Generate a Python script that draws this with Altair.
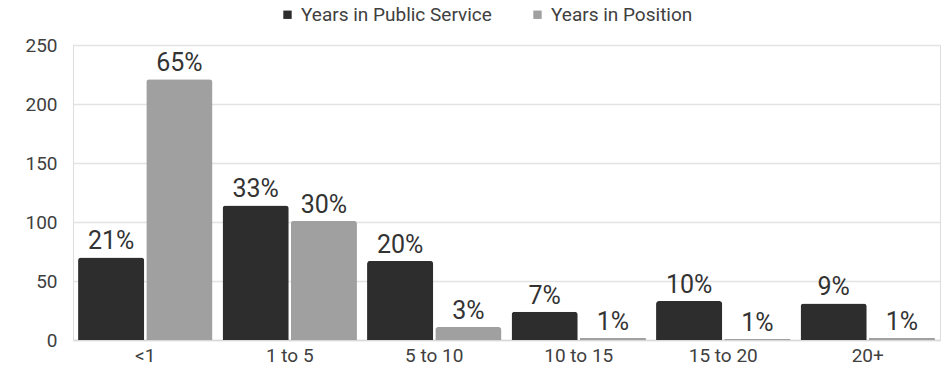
import altair as alt
import pandas as pd

categories = ["<1", "1 to 5", "5 to 10", "10 to 15", "15 to 20", "20+"]
series_names = ["Years in Public Service", "Years in Position"]
public_service = [70, 114, 67, 24, 33, 31]
position = [221, 101, 11, 2, 1, 2]
public_pct = ["21%", "33%", "20%", "7%", "10%", "9%"]
position_pct = ["65%", "30%", "3%", "1%", "1%", "1%"]

rows = []
for i, c in enumerate(categories):
    rows.append({"cat": c, "series": series_names[0], "value": public_service[i], "label": public_pct[i]})
    rows.append({"cat": c, "series": series_names[1], "value": position[i], "label": position_pct[i]})
df = pd.DataFrame(rows)

FONT = "Roboto"

x = alt.X("cat:N", sort=categories, title=None,
          scale=alt.Scale(paddingInner=0.07, paddingOuter=0.035),
          axis=alt.Axis(labelAngle=0, ticks=False, labelFontSize=19, labelColor="#404040",
                        labelPadding=6, domainColor="#d9d9d9", domainWidth=1.5, labelFont=FONT))
xoff = alt.XOffset("series:N", sort=series_names, scale=alt.Scale(paddingInner=0.03))
y = alt.Y("value:Q", title=None,
          scale=alt.Scale(domain=[0, 250], nice=False),
          axis=alt.Axis(values=[0, 50, 100, 150, 200, 250], ticks=False, domain=False,
                        labelFontSize=19, labelColor="#404040", labelPadding=16,
                        gridColor="#e3e3e3", gridWidth=1.5, labelFont=FONT))
color = alt.Color("series:N", sort=series_names,
                  scale=alt.Scale(domain=series_names, range=["#2d2d2d", "#a0a0a0"]),
                  legend=alt.Legend(title=None, orient="none", direction="horizontal",
                                    legendX=205, legendY=-40, symbolType="square", symbolSize=70,
                                    labelFontSize=19, labelColor="#404040", labelFont=FONT,
                                    labelLimit=0, columnPadding=36, symbolStrokeWidth=0))

bars = alt.Chart(df).mark_bar(cornerRadiusEnd=3).encode(x=x, xOffset=xoff, y=y, color=color)
text = alt.Chart(df).mark_text(baseline="bottom", dy=-3, fontSize=25, color="#333333", font=FONT).encode(
    x=alt.X("cat:N", sort=categories), xOffset=xoff, y="value:Q", text="label:N")

chart = (bars + text).properties(
    width=867, height=295,
    autosize=alt.AutoSizeParams(type="none"),
    padding={"left": 73, "top": 45, "right": 5, "bottom": 35},
).configure_view(stroke=None).configure(font=FONT)

chart.save("out.html", embed_options={"renderer": "svg", "actions": False})
